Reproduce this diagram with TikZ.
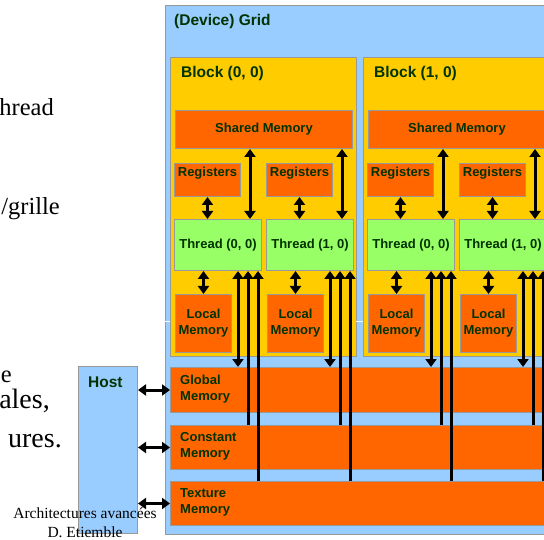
\documentclass[tikz,border=0pt]{standalone}
\usepackage{fontspec}
\setmainfont{Liberation Serif}
\newfontfamily\arialfont{Liberation Sans}
\usetikzlibrary{arrows.meta,calc}
\definecolor{gridblue}{HTML}{99CCFF}
\definecolor{blockyellow}{HTML}{FFCC00}
\definecolor{memorange}{HTML}{FF6600}
\definecolor{threadgreen}{HTML}{99FF66}
\definecolor{labelgreen}{HTML}{003300}
\definecolor{edgegray}{HTML}{999999}
\begin{document}
\begin{tikzpicture}[x=1pt,y=-1pt,
  box/.style={draw=edgegray, line width=1pt, inner sep=0pt, anchor=north west},
  lbl/.style={font=\arialfont\bfseries\fontsize{13}{16}\selectfont, text=labelgreen, align=center},
  lbll/.style={font=\arialfont\bfseries\fontsize{13}{16}\selectfont, text=labelgreen, align=left, inner sep=0pt, anchor=north west},
  ttl/.style={font=\arialfont\bfseries\fontsize{15.5}{18}\selectfont, text=labelgreen, anchor=base west, inner sep=0pt},
  tip/.tip={Triangle[width=11pt,length=8pt]},
  link/.style={line width=3pt, -tip},
  both/.style={line width=3pt, tip-tip},
  slide/.style={font=\fontsize{24.5}{29}\selectfont, anchor=base east, inner sep=0pt},
  slidebig/.style={slide, font=\fontsize{28}{33}\selectfont},
  foot/.style={font=\fontsize{15.5}{18}\selectfont, anchor=base, inner sep=0pt}
]
\useasboundingbox (0,0) rectangle (544,540);
\clip (0,0) rectangle (544,540);

% slide text to the left
\node[slide] (s1) at (54,116) {hread};
\node[slide] (s2) at (60,215) {/grille};
\node[slide] (s3) at (12,382) {e};
\node[slidebig] (s4) at (50,408) {ales,};
\node[slidebig] (s5) at (62,447) {ures.};

% device grid
\node[box, fill=gridblue, minimum width=400pt, minimum height=529pt] (grid) at (165,5) {};
\node[ttl] (gridt) at (174,26) {(Device) Grid};

% device memories
\node[box, fill=memorange, minimum width=390pt, minimum height=45pt] (glob) at (170,367) {};
\node[lbll] (globt) at ([xshift=10pt,yshift=-8pt]glob.north west) {Global\\Memory};
\node[box, fill=memorange, minimum width=390pt, minimum height=44pt] (const) at (170,425) {};
\node[lbll] (constt) at ([xshift=10pt,yshift=-7.5pt]const.north west) {Constant\\Memory};
\node[box, fill=memorange, minimum width=390pt, minimum height=44pt] (tex) at (170,481) {};
\node[lbll] (text) at ([xshift=10pt,yshift=-7.5pt]tex.north west) {Texture\\Memory};

% host
\node[box, fill=gridblue, minimum width=59pt, minimum height=167pt] (host) at (78,366) {};
\node[ttl] (hostt) at (88,387) {Host};

% blocks
\foreach \b in {0,1}{
  \pgfmathsetmacro\o{193*\b}
  \node[box, fill=blockyellow, minimum width=186pt, minimum height=299pt] (blk\b) at (170+\o,57) {};
  \node[ttl] (blkt\b) at ([xshift=11pt,yshift=-21pt]blk\b.north west) {Block (\b, 0)};
  \node[box, lbl, fill=memorange, minimum width=177pt, minimum height=38pt] (sm\b) at (175+\o,110) {Shared Memory};
  \foreach \t in {0,1}{
    \pgfmathsetmacro\p{\o+92*\t}
    \node[box, fill=memorange, minimum width=66pt, minimum height=33pt] (reg\b\t) at (174+\p,163) {};
    \node[lbl, anchor=north, inner sep=0pt] (regt\b\t) at ([yshift=-4pt]reg\b\t.north) {Registers};
    \node[box, lbl, fill=threadgreen, minimum width=87pt, minimum height=51pt] (thr\b\t) at (174+\p,219) {Thread (\t, 0)};
    \node[box, lbl, fill=memorange, minimum width=56pt, minimum height=58pt] (loc\b\t) at (175+\p,294) {Local\\Memory};
    % per-thread links
    \draw[both] (reg\b\t.south) -- (reg\b\t.south |- thr\b\t.north);
    \draw[both] (loc\b\t.north) -- (loc\b\t.north |- thr\b\t.south);
    \coordinate (sa\b\t) at ([xshift=-12pt]thr\b\t.north east);
    \draw[both] (sa\b\t) -- (sa\b\t |- sm\b.south);
    \coordinate (ga\b\t) at ([xshift=-24pt]thr\b\t.south east);
    \coordinate (gc\b\t) at ([xshift=-14pt]thr\b\t.south east);
    \coordinate (gt\b\t) at ([xshift=-4pt]thr\b\t.south east);
    \draw[both] (ga\b\t) -- (ga\b\t |- glob.north);
    \draw[link] (gc\b\t |- const.north) -- (gc\b\t);
    \draw[link] (gt\b\t |- tex.north) -- (gt\b\t);
  }
}

% host links
\draw[both] (host.east |- glob.west) -- (glob.west);
\draw[both] (host.east |- const.west) -- (const.west);
\draw[both] (host.east |- tex.west) -- (tex.west);

% small white marks across the grid margins
\draw[white, line width=1pt] (160,322) -- (170,322);
\draw[white, line width=1pt] (356,322) -- (363,322);

% footer
\node[foot] (f1) at (85,518) {Architectures avancées};
\node[foot] (f2) at (85,537) {D. Etiemble};
\end{tikzpicture}
\end{document}
